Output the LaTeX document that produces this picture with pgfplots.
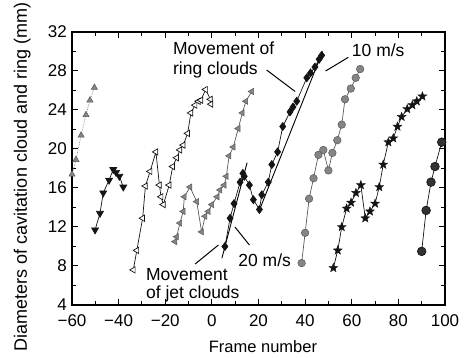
\documentclass[border=0pt]{standalone}
\usepackage{fontspec}
\setmainfont{Liberation Sans}
\usepackage{pgfplots}
\pgfplotsset{compat=1.18}
\usetikzlibrary{plotmarks}

\definecolor{mgray}{gray}{0.52}
\definecolor{dgray}{gray}{0.35}
\definecolor{blk}{gray}{0.08}

\pgfdeclareplotmark{fstar}{%
  \pgfpathmoveto{\pgfpointpolar{90}{\pgfplotmarksize}}%
  \pgfpathlineto{\pgfpointpolar{126}{0.42\pgfplotmarksize}}%
  \pgfpathlineto{\pgfpointpolar{162}{\pgfplotmarksize}}%
  \pgfpathlineto{\pgfpointpolar{198}{0.42\pgfplotmarksize}}%
  \pgfpathlineto{\pgfpointpolar{234}{\pgfplotmarksize}}%
  \pgfpathlineto{\pgfpointpolar{270}{0.42\pgfplotmarksize}}%
  \pgfpathlineto{\pgfpointpolar{306}{\pgfplotmarksize}}%
  \pgfpathlineto{\pgfpointpolar{342}{0.42\pgfplotmarksize}}%
  \pgfpathlineto{\pgfpointpolar{18}{\pgfplotmarksize}}%
  \pgfpathlineto{\pgfpointpolar{54}{0.42\pgfplotmarksize}}%
  \pgfpathclose
  \pgfusepathqfillstroke
}

\begin{document}
\begin{tikzpicture}
\useasboundingbox (0,0) rectangle (465pt,358pt);
\begin{axis}[
  at={(72pt,53pt)}, anchor=south west,
  scale only axis, width=373pt, height=273pt,
  xmin=-60, xmax=100, ymin=4, ymax=32,
  xtick={-60,-40,...,100},
  xticklabels={−60,−40,−20,0,20,40,60,80,100},
  minor x tick num=1,
  ytick={4,8,...,32}, minor y tick num=1,
  tick align=inside, major tick length=6pt, minor tick length=4pt,
  axis line style={line width=1.3pt},
  every tick/.style={black, line width=1pt},
  tick label style={font=\fontsize{17}{20}\selectfont},
  /pgf/number format/assume math mode=true,
  xticklabel style={inner sep=0pt, yshift=-9.5pt, anchor=north},
  yticklabel style={inner sep=0pt, xshift=-5pt, anchor=east},
  xlabel={Frame number},
  xlabel style={font=\fontsize{16.5}{20}\selectfont, at={(axis description cs:0.512,0)}, anchor=north, inner sep=0pt, yshift=-35.5pt},
  ylabel={Diameters of cavitation cloud and ring (mm)},
  ylabel style={font=\fontsize{18}{21}\selectfont, at={(axis description cs:-0.121,0.469)}, anchor=base, inner sep=0pt},
  clip=false,
]
% series 1: gray up triangles
\addplot[mgray, densely dotted, line width=0.7pt, mark=triangle*, mark size=3.6pt,
  mark options={solid, fill=mgray, draw=dgray, line width=0.5pt}] coordinates {
(-60,17.4) (-58.3,18.9) (-56.1,21.4) (-54,23.5) (-52.3,25.0) (-50.4,26.3)};
% series 2: black down triangles
\addplot[blk, line width=0.7pt, mark=triangle*, mark size=4pt,
  mark options={solid, rotate=180, fill=blk, draw=blk}] coordinates {
(-50.1,11.7) (-48,13.4) (-46.6,15.5) (-44.1,16.8) (-42.3,17.9) (-41.1,17.6) (-39.7,17.2) (-38,16.1)};
% series 3: open left triangles
\addplot[blk, line width=0.7pt, mark=triangle*, mark size=3.6pt,
  mark options={solid, rotate=90, fill=white, draw=blk, line width=0.7pt}] coordinates {
(-33.7,7.6) (-32.2,9.6) (-29.7,12.9) (-28.5,16.2) (-26.5,17.7) (-24.0,19.7) (-22.5,16.3) (-21.8,15.1) (-20.8,14.3) (-18.3,16.3) (-16.8,18.2) (-15.1,19.1) (-13.7,19.9) (-12.3,20.4) (-10.4,21.6) (-9.0,23.7) (-7.2,24.5) (-5.8,24.9) (-4.7,25.0) (-2.7,26.1) (-0.6,25.1) (-0.4,24.6)};
% series 4: gray left triangles
\addplot[dgray, line width=0.7pt, mark=triangle*, mark size=3.6pt,
  mark options={solid, rotate=90, fill=mgray, draw=dgray, line width=0.5pt}] coordinates {
(-15.8,10.5) (-15.1,11.0) (-13.7,12.4) (-12.3,13.6) (-11.8,15.1) (-9.4,16.1) (-6.5,14.6) (-4.4,11.5) (-2.9,13.1) (-1.5,13.6) (0,14.3) (2.3,15.1) (3.5,15.8) (5.3,16.3) (6.2,17.2) (7.4,19.3) (9.2,20.2) (11.3,22.1) (13.1,23.7) (14.6,24.9) (17.1,25.9)};
% series 5: black diamonds
\addplot[blk, line width=0.7pt, mark=diamond*, mark size=4pt,
  mark options={solid, fill=blk, draw=blk}] coordinates {
(5.6,10.0) (7.8,12.9) (9.5,14.4) (12.1,16.6) (13.3,17.5) (13.9,17.2) (16.1,16.3) (17.8,14.8) (20.4,13.8) (21.4,15.3) (24.2,16.6) (25.7,18.4) (28.2,19.7) (30.4,22.3) (33.5,23.8) (34.8,24.3) (36.4,24.9) (40.7,27.3) (42.3,27.8) (44.2,28.4) (46.0,29.2) (47.1,29.6)};
% series 6: gray circles
\addplot[dgray, line width=0.7pt, mark=*, mark size=3.8pt,
  mark options={solid, fill=mgray, draw=dgray, line width=0.5pt}] coordinates {
(38.5,8.3) (40.0,11.4) (41.7,14.9) (43.6,17.0) (45.7,19.4) (47.8,19.9) (50.0,17.8) (51.7,19.6) (53.8,20.9) (55.7,22.5) (57.1,25.1) (59.6,26.2) (61.7,27.3) (63.6,28.2)};
% series 7: black stars
\addplot[blk, line width=0.7pt, mark=fstar, mark size=4.6pt,
  mark options={solid, fill=blk, draw=blk, line width=0.4pt}] coordinates {
(52.1,7.8) (54.0,9.6) (55.7,12.0) (57.8,13.9) (59.7,14.5) (61.8,15.5) (63.9,16.3) (65.8,12.9) (67.8,13.6) (70.0,14.4) (71.8,16.1) (73.5,18.4) (75.7,20.7) (77.8,21.1) (79.6,22.3) (81.4,23.3) (83.8,24.1) (86.0,24.5) (87.9,24.9) (90.3,25.4)};
% series 8: dark circles
\addplot[blk, line width=0.7pt, mark=*, mark size=4.3pt,
  mark options={solid, fill=black!80, draw=blk}] coordinates {
(90.0,9.5) (91.9,13.7) (94.0,16.6) (95.7,18.2) (98.6,20.7)};
% velocity lines
\addplot[black, line width=0.9pt] coordinates {(20,13.5) (47.5,30)};
\addplot[black, line width=0.9pt] coordinates {(4.3,8.8) (15.1,18.6)};
% annotations
\node[anchor=west, align=left, inner sep=0pt, font=\fontsize{17.5}{20}\selectfont] at (axis cs:-16.7,29.1) {Movement of\\ring clouds};
\draw[line width=1pt] (axis cs:23.5,28.1) -- (axis cs:35.7,25.9);
\node[anchor=west, inner sep=0pt, font=\fontsize{17.5}{20}\selectfont] at (axis cs:60,30.15) {10 m/s};
\draw[line width=1pt] (axis cs:58.5,29.4) -- (axis cs:48.8,28.0);
\node[anchor=west, inner sep=0pt, font=\fontsize{17.5}{20}\selectfont] at (axis cs:11.3,8.6) {20 m/s};
\draw[line width=1pt] (axis cs:9.9,12.0) -- (axis cs:16.1,10.15);
\node[anchor=west, align=left, inner sep=0pt, font=\fontsize{17.5}{17.5}\selectfont] at (axis cs:-28.3,6.0) {Movement\\of jet clouds};
\draw[line width=1pt] (axis cs:-7.2,8.2) -- (axis cs:2.8,10.15);
\end{axis}
\end{tikzpicture}
\end{document}
